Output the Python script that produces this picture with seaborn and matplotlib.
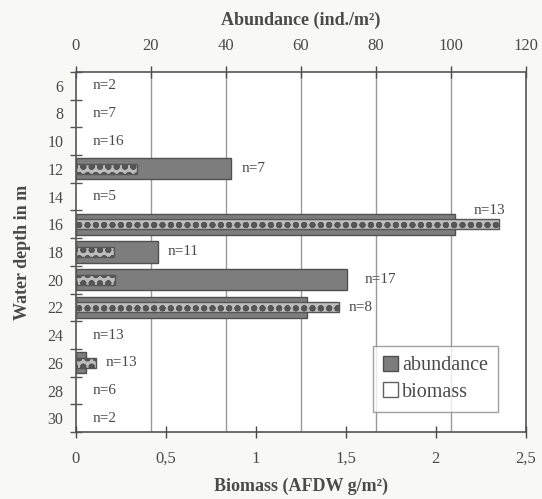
import matplotlib
matplotlib.use("Agg")
import matplotlib.pyplot as plt
import matplotlib.patches as mpatches
import numpy as np
import pandas as pd
import seaborn as sns

# ---- data ----
depths = ["6", "8", "10", "12", "14", "16", "18", "20", "22", "24", "26", "28", "30"]
abundance = [np.nan, np.nan, np.nan, 41.5, np.nan, 101.0, 21.8, 72.3, 61.6, np.nan, 2.6, np.nan, np.nan]
biomass = [np.nan, np.nan, np.nan, 0.34, np.nan, 2.35, 0.21, 0.22, 1.46, np.nan, 0.11, np.nan, np.nan]
n_labels = ["n=2", "n=7", "n=16", "n=7", "n=5", "n=13", "n=11", "n=17", "n=8", "n=13", "n=13", "n=6", "n=2"]
abund_ticks = [0, 20, 40, 60, 80, 100, 120]
bio_ticks = [0, 0.5, 1, 1.5, 2, 2.5]
bio_ticklabels = ["0", "0,5", "1", "1,5", "2", "2,5"]

df = pd.DataFrame({"depth": depths, "abundance": abundance, "biomass": biomass})

sns.set_theme(style="white")
plt.rcParams["font.family"] = ["Liberation Serif", "DejaVu Serif"]
TXT = "#4a4a4a"
plt.rcParams["text.color"] = TXT
plt.rcParams["axes.labelcolor"] = TXT
plt.rcParams["xtick.color"] = TXT
plt.rcParams["ytick.color"] = TXT
plt.rcParams["hatch.color"] = "white"
plt.rcParams["hatch.linewidth"] = 2.0

fig = plt.figure(figsize=(5.42, 4.99), dpi=100, facecolor="#f8f8f6")
ax = fig.add_axes([0.140, 0.134, 0.830, 0.722])
ax.set_facecolor("white")

# abundance bars (top axis)
sns.barplot(data=df, y="depth", x="abundance", order=depths, orient="h",
            width=0.76, color="#7d7d7d", saturation=1, edgecolor="#505050",
            linewidth=1.0, ax=ax)
ax.set_xlim(0, 120)
ax.set_ylim(len(depths) - 0.5, -0.5)
ax.set_axisbelow(True)
for v in abund_ticks[1:-1]:
    ax.axvline(v, color="#9a9a9a", lw=1.0, zorder=0)

# y axis: labels at centres, tick marks between categories
ax.set_yticks(range(len(depths)))
ax.set_yticklabels(depths, fontsize=11.5)
ax.tick_params(axis="y", which="major", left=True, length=0, pad=9)
ax.set_yticks(np.arange(-0.5, len(depths), 1.0), minor=True)
ax.tick_params(axis="y", which="minor", left=True, direction="inout", length=9,
               width=1, colors="#555555")
ax.set_ylabel("Water depth in m", fontsize=13, fontweight="bold", labelpad=12)

for s in ax.spines.values():
    s.set_color("#555555")
    s.set_linewidth(1.2)

# biomass bars (bottom axis)
ax2 = ax.twiny()
sns.barplot(data=df, y="depth", x="biomass", order=depths, orient="h",
            width=0.36, color="#bdbdbd", saturation=1, edgecolor="#555555",
            linewidth=1.0, hatch="oo", ax=ax2)
ax2.set_xlim(0, 2.5)
ax2.set_ylim(len(depths) - 0.5, -0.5)
ax2.xaxis.set_ticks_position("bottom")
ax2.xaxis.set_label_position("bottom")
ax2.set_xticks(bio_ticks)
ax2.set_xticklabels(bio_ticklabels, fontsize=12)
ax2.set_xlabel("Biomass (AFDW g/m²)", fontsize=13, fontweight="bold", labelpad=8)
ax2.tick_params(axis="x", direction="inout", length=9, width=1, pad=9, colors=TXT,
                bottom=True, top=False, labelbottom=True, labeltop=False)
ax2.set_ylabel("")
ax2.tick_params(axis="y", left=False, labelleft=False)
for s in ax2.spines.values():
    s.set_visible(False)

# top axis for abundance (after twiny, which moves it to the bottom)
ax.xaxis.set_ticks_position("top")
ax.xaxis.set_label_position("top")
ax.set_xticks(abund_ticks)
ax.set_xticklabels([str(t) for t in abund_ticks], fontsize=12)
ax.set_xlabel("Abundance (ind./m²)", fontsize=13, fontweight="bold", labelpad=10)
ax.tick_params(axis="x", direction="inout", length=9, width=1, pad=8, colors=TXT,
               top=True, labeltop=True, bottom=False, labelbottom=False)

# n labels
for i, (a, b, lab) in enumerate(zip(abundance, biomass, n_labels)):
    if np.isnan(a):
        ax.annotate(lab, xy=(0, i), xytext=(12, 0), textcoords="offset points",
                    va="center", ha="left", fontsize=11, color=TXT)
        continue
    a_end = a
    b_end = b / 2.5 * 120
    end = max(a_end, b_end)
    if i == 5:
        ax.annotate(lab, xy=(a_end, i), xytext=(14, 10), textcoords="offset points",
                    va="center", ha="left", fontsize=11, color=TXT)
    else:
        off = 13 if i == 7 else 7
        ax.annotate(lab, xy=(end, i), xytext=(off, 0), textcoords="offset points",
                    va="center", ha="left", fontsize=11, color=TXT)

# legend
h1 = mpatches.Patch(facecolor="#7d7d7d", edgecolor="#505050", label="abundance")
h2 = mpatches.Patch(facecolor="white", edgecolor="#606060", label="biomass")
leg = ax2.legend(handles=[h1, h2], loc="lower right", bbox_to_anchor=(0.938, 0.056),
                 borderaxespad=0, fontsize=14.5, frameon=True, fancybox=False,
                 handlelength=0.75, handleheight=0.75, handletextpad=0.2,
                 borderpad=0.5, labelspacing=0.35)
leg.get_frame().set_edgecolor("#8a8a8a")
leg.get_frame().set_linewidth(1.0)
for t in leg.get_texts():
    t.set_color(TXT)

fig.savefig("out.png", dpi=100, facecolor=fig.get_facecolor())
